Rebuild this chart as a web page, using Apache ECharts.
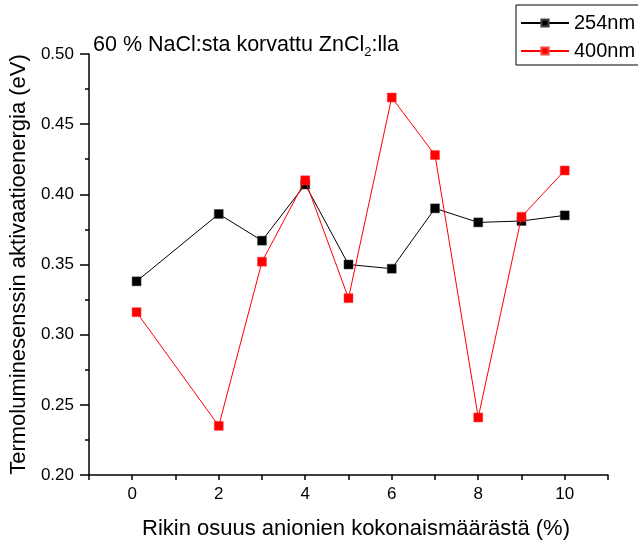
<!DOCTYPE html>
<html>
<head>
<meta charset="utf-8">
<script src="https://cdn.jsdelivr.net/npm/echarts@6/dist/echarts.min.js"></script>
<style>
  html, body { margin: 0; padding: 0; background: #fff; }
  #chart { width: 638px; height: 545px; }
</style>
</head>
<body>
<div id="chart"></div>
<script>
// Sulphur share of all anions (%)
const sulphurShare = [0.1, 2, 3, 4, 5, 6, 7, 8, 9, 10];
// Thermoluminescence activation energy (eV) for each excitation wavelength
const energy254 = [0.338, 0.386, 0.367, 0.407, 0.350, 0.347, 0.390, 0.380, 0.381, 0.385];
const energy400 = [0.316, 0.235, 0.352, 0.410, 0.326, 0.469, 0.428, 0.241, 0.384, 0.417];
const seriesNames = ['254nm', '400nm'];

const FONT = "'Liberation Sans', Arial, sans-serif";

function pairs(xs, ys) {
  return xs.map((x, i) => [x, ys[i]]);
}

const chart = echarts.init(document.getElementById('chart'), null, { renderer: 'canvas' });

chart.setOption({
  animation: false,
  backgroundColor: '#ffffff',
  title: {
    text: '60 % NaCl:sta korvattu ZnCl{sub|2}:lla',
    left: 88,
    top: 27,
    textStyle: {
      fontFamily: FONT,
      fontSize: 21.5,
      fontWeight: 'normal',
      color: '#000',
      rich: {
        sub: { fontFamily: FONT, fontSize: 13, color: '#000', verticalAlign: 'bottom', padding: [14, 0, 0, 0] }
      }
    }
  },
  legend: {
    orient: 'vertical',
    left: 516,
    top: 5,
    padding: [8, 10, 4, 4],
    itemGap: 8,
    itemWidth: 48,
    itemHeight: 9,
    borderColor: '#000',
    borderWidth: 1,
    borderRadius: 0,
    backgroundColor: '#fff',
    textStyle: { fontFamily: FONT, fontSize: 20, color: '#000' },
    data: seriesNames
  },
  grid: { left: 88, right: 30, top: 54, bottom: 68, containLabel: false },
  xAxis: {
    type: 'value',
    min: -1,
    max: 11,
    interval: 1,
    name: 'Rikin osuus anionien kokonaismäärästä (%)',
    nameLocation: 'middle',
    nameGap: 43,
    nameTextStyle: { fontFamily: FONT, fontSize: 22, color: '#000', padding: [0, 0, 0, 15] },
    axisLine: { onZero: false, lineStyle: { color: '#000', width: 1.5 } },
    axisTick: { length: 5, lineStyle: { color: '#000', width: 1.5 } },
    axisLabel: {
      fontFamily: FONT, fontSize: 17, color: '#000', margin: 11,
      formatter: v => (Math.round(v) % 2 === 0 ? String(Math.round(v)) : '')
    },
    splitLine: { show: false }
  },
  yAxis: {
    type: 'value',
    min: 0.2,
    max: 0.5,
    interval: 0.05,
    name: 'Termoluminesenssin aktivaatioenergia (eV)',
    nameLocation: 'middle',
    nameGap: 48,
    nameTextStyle: { fontFamily: FONT, fontSize: 22, color: '#000' },
    axisLine: { show: true, onZero: false, lineStyle: { color: '#000', width: 1.5 } },
    axisTick: { show: true, length: 9, lineStyle: { color: '#000', width: 1.5 } },
    minorTick: { show: true, splitNumber: 2, length: 4, lineStyle: { color: '#000', width: 1.5 } },
    axisLabel: {
      fontFamily: FONT, fontSize: 17, color: '#000', margin: 15,
      formatter: v => v.toFixed(2)
    },
    splitLine: { show: false }
  },
  series: [
    {
      name: seriesNames[0],
      type: 'line',
      data: pairs(sulphurShare, energy254),
      symbol: 'rect',
      symbolSize: 9,
      color: '#000000',
      lineStyle: { color: '#000000', width: 1 },
      itemStyle: { color: '#000000', borderColor: '#444', borderWidth: 0.5 },
      z: 2
    },
    {
      name: seriesNames[1],
      type: 'line',
      data: pairs(sulphurShare, energy400),
      symbol: 'rect',
      symbolSize: 9,
      color: '#ff0000',
      lineStyle: { color: '#ff0000', width: 1 },
      itemStyle: { color: '#ff0000', borderColor: '#ff4040', borderWidth: 0.5 },
      z: 3
    }
  ]
});
</script>
</body>
</html>
